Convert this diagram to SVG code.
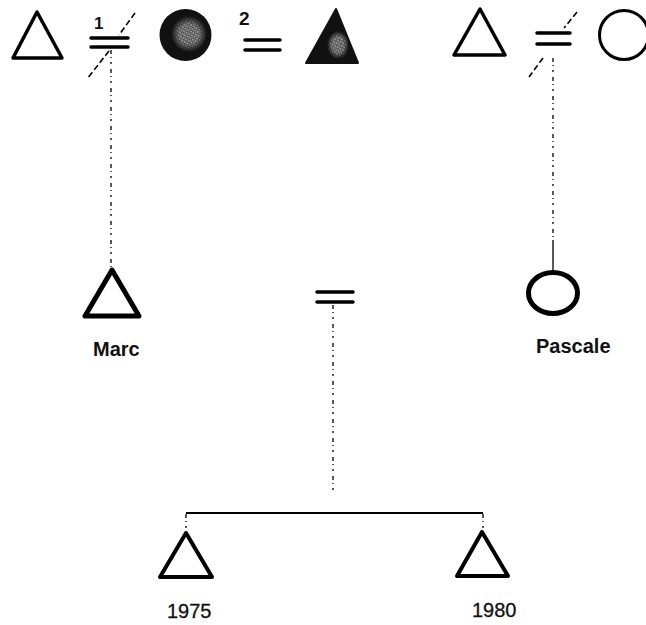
<svg xmlns="http://www.w3.org/2000/svg" width="646" height="625" viewBox="0 0 646 625">
  <style>
    .sym { fill: none; stroke: #000; stroke-linejoin: round; }
    .bar { stroke: #000; stroke-width: 3.5; stroke-linecap: round; }
    .cut { stroke: #000; stroke-width: 1.6; stroke-dasharray: 6 3; }
    .link { fill: none; stroke: #000; stroke-width: 1.3; }
    .dots { stroke-dasharray: 4 3 1 4 2 5; }
    .name { font-family: "Liberation Sans", Arial, sans-serif; font-size: 20px; font-weight: bold; fill: #111; }
    .year { font-family: "Liberation Sans", Arial, sans-serif; font-size: 20px; fill: #111; stroke: #111; stroke-width: 0.3; }
    .num { font-family: "Liberation Sans", Arial, sans-serif; font-weight: bold; fill: #111; }
  </style>
  <defs>
    <!-- stippled halftone used inside the shaded symbols -->
    <pattern id="stipple" width="3" height="3" patternUnits="userSpaceOnUse" patternTransform="rotate(30)">
      <rect width="3" height="3" fill="#444"/>
      <circle cx="1" cy="1" r="0.8" fill="#fff"/>
      <circle cx="2.5" cy="2.4" r="0.45" fill="#ddd"/>
    </pattern>
    <radialGradient id="fade">
      <stop offset="0" stop-color="#fff"/>
      <stop offset="0.55" stop-color="#fff"/>
      <stop offset="1" stop-color="#000"/>
    </radialGradient>
    <mask id="softCircle" maskContentUnits="objectBoundingBox">
      <rect width="1" height="1" fill="url(#fade)"/>
    </mask>
  </defs>

  <!-- connectors: descent lines and sibling bar -->
  <g id="connectors">
    <path class="link dots" d="M111,50 V270"/>
    <path class="link dots" d="M553,58 V240"/>
    <path class="link" d="M553,240 V271"/>
    <path class="link dots" d="M333,305 V490"/>
    <path class="link" d="M186,513 H483" style="stroke-width:1.8"/>
    <path class="link dots" d="M186,514 V531"/>
    <path class="link dots" d="M483,514 V530"/>
  </g>

  <!-- first generation, left: man with two marriages -->
  <g id="man-left">
    <polygon class="sym" points="37,12 13,58 62,58" stroke-width="3.5"/>
  </g>
  <g id="marriage-1">
    <text class="num" x="94" y="29" font-size="17">1</text>
    <line class="bar" x1="91" y1="38" x2="128" y2="38"/>
    <line class="bar" x1="91" y1="47" x2="128" y2="47"/>
    <line class="cut" x1="135" y1="13" x2="119" y2="35"/>
    <line class="cut" x1="109" y1="51" x2="87" y2="79"/>
  </g>
  <g id="woman-shaded">
    <circle cx="185.5" cy="35" r="26" fill="#111"/>
    <circle cx="189" cy="34" r="18" fill="url(#stipple)" mask="url(#softCircle)"/>
  </g>
  <g id="marriage-2">
    <text class="num" x="239" y="25" font-size="19">2</text>
    <line class="bar" x1="245" y1="40" x2="280" y2="40"/>
    <line class="bar" x1="245" y1="50" x2="280" y2="50"/>
  </g>
  <g id="man-shaded">
    <polygon points="336,9 306,63 358,63" fill="#111" stroke="#111" stroke-width="2" stroke-linejoin="round"/>
    <ellipse cx="338" cy="45" rx="11" ry="14" fill="url(#stipple)" mask="url(#softCircle)"/>
  </g>

  <!-- first generation, right: divorced couple -->
  <g id="man-right">
    <polygon class="sym" points="480,9 454,55 505,55" stroke-width="3.5"/>
  </g>
  <g id="marriage-right">
    <line class="bar" x1="537" y1="33" x2="570" y2="33"/>
    <line class="bar" x1="537" y1="44" x2="570" y2="44"/>
    <line class="cut" x1="577" y1="12" x2="564" y2="28"/>
    <line class="cut" x1="543" y1="58" x2="529" y2="77"/>
  </g>
  <g id="woman-right">
    <circle class="sym" cx="624" cy="35" r="24.5" stroke-width="3"/>
  </g>

  <!-- second generation -->
  <g id="marc">
    <polygon class="sym" points="112,270 85,316 139,316" stroke-width="5"/>
    <text class="name" x="93" y="356">Marc</text>
  </g>
  <g id="marriage-marc-pascale">
    <line class="bar" x1="317" y1="292" x2="353" y2="292"/>
    <line class="bar" x1="317" y1="302" x2="353" y2="302"/>
  </g>
  <g id="pascale">
    <ellipse class="sym" cx="553" cy="293" rx="24.5" ry="20.5" stroke-width="5"/>
    <text class="name" x="536" y="353">Pascale</text>
  </g>

  <!-- third generation -->
  <g id="son-1975">
    <polygon class="sym" points="186,533 160,577 212,577" stroke-width="4"/>
    <text class="year" x="167" y="618">1975</text>
  </g>
  <g id="son-1980">
    <polygon class="sym" points="482,532 457,576 508,576" stroke-width="4"/>
    <text class="year" x="472" y="617">1980</text>
  </g>
</svg>
